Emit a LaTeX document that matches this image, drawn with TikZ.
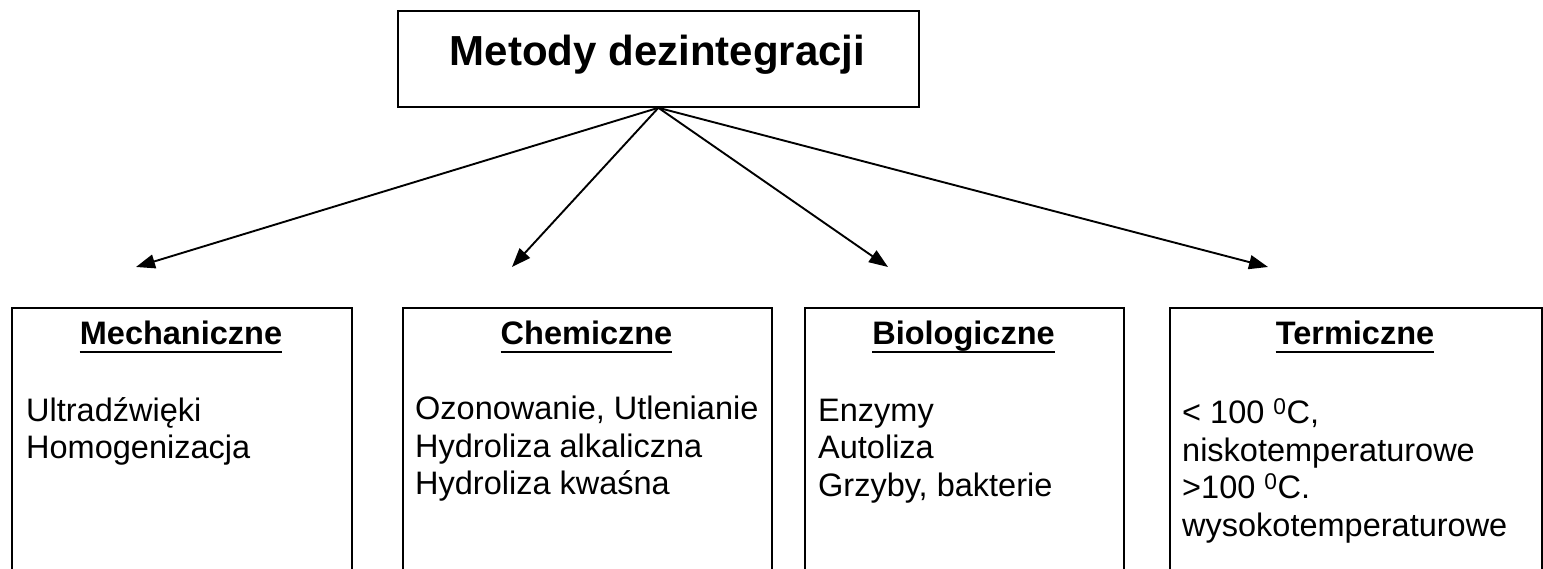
\documentclass[tikz,border=0pt]{standalone}
\usepackage{fontspec}
\setmainfont{Liberation Sans}
\usetikzlibrary{arrows.meta}
% stacked lines whose baseline is that of the first line
\newcommand{\rowstack}[1]{\vtop{\halign{##\hfil\cr#1\crcr}}}
\begin{document}
\begin{tikzpicture}[x=1pt,y=-1pt,
  frame/.style={draw=black, line width=1.8pt, fill=none, anchor=north west, inner sep=0pt},
  titletext/.style={font=\fontsize{42}{48}\selectfont\bfseries, inner sep=0pt, anchor=base},
  headtext/.style={font=\fontsize{32.5}{38}\selectfont\bfseries, inner sep=0pt, anchor=base},
  bodytext/.style={font=\fontsize{32.5}{37.5}\selectfont, inner sep=0pt, anchor=base west},
  uline/.style={line width=2.6pt},
  arr/.style={line width=1.9pt, -{Triangle[length=19pt,width=14pt]}}
]
\clip (0,0) rectangle (1543,569);
\fill[white] (0,0) rectangle (1543,569);

% top box
\node[frame, minimum width=521pt, minimum height=96pt] (top) at (397,10) {};
\node[titletext] (title) at (657.5,66) {Metody dezintegracji};

% four category boxes (they run past the lower edge)
\node[frame, minimum width=340pt, minimum height=320pt] (b1) at (11,307) {};
\node[frame, minimum width=369pt, minimum height=320pt] (b2) at (402,307) {};
\node[frame, minimum width=319pt, minimum height=320pt] (b3) at (804,307) {};
\node[frame, minimum width=372pt, minimum height=320pt] (b4) at (1169,307) {};

% headings
\node[headtext] (h1) at (181,345) {Mechaniczne};
\node[headtext] (h2) at (586.5,345) {Chemiczne};
\node[headtext] (h3) at (963.5,345) {Biologiczne};
\node[headtext] (h4) at (1355,345) {Termiczne};
\foreach \h in {h1,h2,h3,h4}
  \draw[uline] ([yshift=-7pt]\h.base west) -- ([yshift=-7pt]\h.base east);

% contents
\node[bodytext] (t1) at (26,421) {\rowstack{Ultradźwięki\cr Homogenizacja}};
\node[bodytext] (t2) at (415,420) {\rowstack{Ozonowanie, Utlenianie\cr Hydroliza alkaliczna\cr Hydroliza kwaśna}};
\node[bodytext] (t3) at (818,421) {\rowstack{Enzymy\cr Autoliza\cr Grzyby, bakterie}};
\node[bodytext] (t4) at (1182,424) {\rowstack{< 100 \textsuperscript{0}C,\cr niskotemperaturowe\cr >100 \textsuperscript{0}C.\cr wysokotemperaturowe}};

% arrow ends
\coordinate (a1) at (136,267);
\coordinate (a2) at (512,267);
\coordinate (a3) at (888,267);
\coordinate (a4) at (1268,267);
\foreach \a in {a1,a2,a3,a4}
  \draw[arr] (top.south) -- (\a);
\end{tikzpicture}
\end{document}
